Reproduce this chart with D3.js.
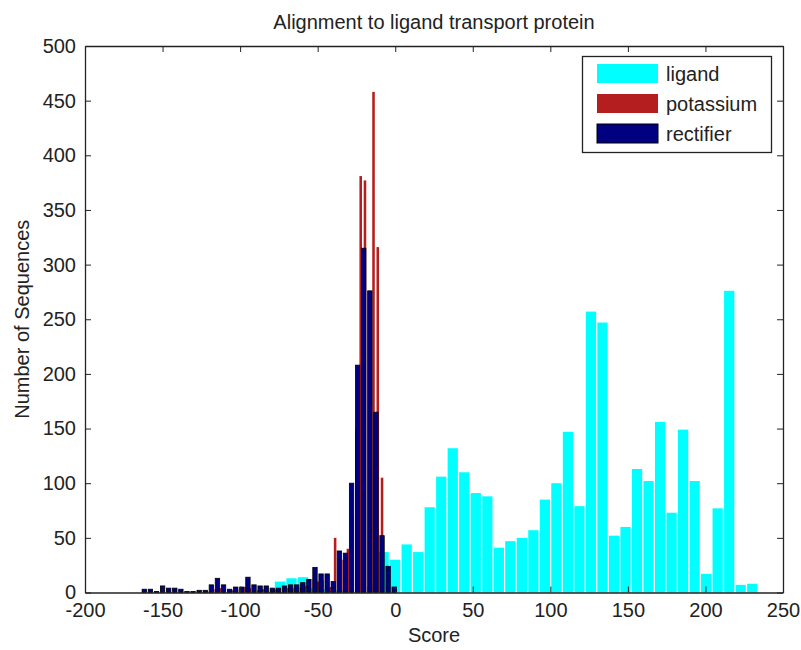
<!DOCTYPE html>
<html>
<head>
<meta charset="utf-8">
<script src="https://cdn.jsdelivr.net/npm/d3@7"></script>
<style>
  body { margin: 0; background: #fff; }
  text { font-family: "Liberation Sans", Arial, sans-serif; }
</style>
</head>
<body>
<div id="chart"></div>
<script>
// Layout
const width = 801;
const height = 650;
const margin = {top: 46, right: 18, bottom: 57.5, left: 85};

// Data: histogram counts, one value per bin (bins are evenly spaced)
const ligandStart = -74.3, ligandBin = 7.426;
const ligandCounts = [10, 13, 14, 4, 3, 2, 2, 3, 5, 37,
  30, 44, 37, 78, 106, 132, 110, 91, 88, 41,
  47, 50, 57, 85, 100, 147, 79, 257, 247, 52,
  60, 113, 102, 156, 73, 149, 102, 17, 77, 276,
  7, 8];

const potassiumStart = -121.25, potassiumBin = 2.75;
const potassiumCounts = [1, 2, 3, 4, 3, 2, 2, 3, 4, 5,
  4, 3, 2, 3, 2, 2, 3, 2, 3, 4,
  4, 5, 5, 6, 8, 12, 10, 11, 9, 5,
  50, 25, 30, 40, 70, 150, 381, 377, 240, 458,
  316, 105];

const rectifierStart = -165.7, rectifierBin = 3.93;
const rectifierCounts = [0, 3, 3, 1, 6, 4, 4, 3, 1, 1,
  2, 2, 7, 13, 7, 3, 5, 5, 14, 7,
  6, 6, 4, 4, 6, 7, 7, 9, 12, 23,
  17, 17, 10, 38, 36, 100, 208, 315, 276, 165,
  52, 24, 5];

const xTicks = [-200, -150, -100, -50, 0, 50, 100, 150, 200, 250];
const yTicks = [0, 50, 100, 150, 200, 250, 300, 350, 400, 450, 500];

const seriesNames = ["ligand", "potassium", "rectifier"];
const seriesColors = ["#00ffff", "#b41e1e", "#000080"];

// Scales
const x = d3.scaleLinear().domain([-200, 250]).range([margin.left, width - margin.right]);
const y = d3.scaleLinear().domain([0, 500]).range([height - margin.bottom, margin.top]);

const svg = d3.select("#chart").append("svg")
  .attr("width", width)
  .attr("height", height)
  .style("font-size", "20px");

function toBins(start, step, counts) {
  return counts.map((c, i) => ({center: start + i * step, step: step, count: c}));
}

function drawBars(bins, frac, fill, stroke, strokeWidth) {
  svg.append("g").selectAll("rect").data(bins.filter(d => d.count > 0)).join("rect")
    .attr("x", d => x(d.center - d.step * frac / 2))
    .attr("width", d => x(d.center + d.step * frac / 2) - x(d.center - d.step * frac / 2))
    .attr("y", d => y(d.count))
    .attr("height", d => y(0) - y(d.count))
    .attr("fill", fill)
    .attr("stroke", stroke)
    .attr("stroke-width", strokeWidth);
}

// ligand behind, rectifier on top
drawBars(toBins(ligandStart, ligandBin, ligandCounts), 0.89, seriesColors[0], "none", 0);
drawBars(toBins(potassiumStart, potassiumBin, potassiumCounts), 0.6, seriesColors[1], "none", 0);
drawBars(toBins(rectifierStart, rectifierBin, rectifierCounts), 0.72, seriesColors[2], "#000", 0.8);

// Axes (ticks pointing inward on all four sides)
const axisColor = "#222";
const bottomAxis = svg.append("g")
  .attr("transform", `translate(0,${y(0)})`)
  .call(d3.axisBottom(x).tickValues(xTicks).tickSize(-6).tickSizeOuter(0).tickPadding(10));
const topAxis = svg.append("g")
  .attr("transform", `translate(0,${y(500)})`)
  .call(d3.axisTop(x).tickValues(xTicks).tickSize(-6).tickSizeOuter(0).tickFormat(""));
const leftAxis = svg.append("g")
  .attr("transform", `translate(${x(-200)},0)`)
  .call(d3.axisLeft(y).tickValues(yTicks).tickSize(-6).tickSizeOuter(0).tickPadding(9));
const rightAxis = svg.append("g")
  .attr("transform", `translate(${x(250)},0)`)
  .call(d3.axisRight(y).tickValues(yTicks).tickSize(-6).tickSizeOuter(0).tickFormat(""));

[bottomAxis, topAxis, leftAxis, rightAxis].forEach(g => {
  g.select(".domain").attr("stroke", axisColor).attr("stroke-width", 1.3);
  g.selectAll(".tick line").attr("stroke", axisColor);
  g.selectAll(".tick text")
    .attr("fill", "#222")
    .style("font-size", "20px")
    .style("font-family", "'Liberation Sans', Arial, sans-serif");
});
bottomAxis.selectAll(".tick text").text(d => d < 0 ? "-" + Math.abs(d) : d);

// Title and axis labels
svg.append("text")
  .attr("x", (x(-200) + x(250)) / 2)
  .attr("y", 29)
  .attr("text-anchor", "middle")
  .attr("fill", "#222")
  .text("Alignment to ligand transport protein");

svg.append("text")
  .attr("x", (x(-200) + x(250)) / 2)
  .attr("y", 642)
  .attr("text-anchor", "middle")
  .attr("fill", "#222")
  .text("Score");

svg.append("text")
  .attr("transform", `translate(29,${(y(0) + y(500)) / 2}) rotate(-90)`)
  .attr("text-anchor", "middle")
  .attr("fill", "#222")
  .text("Number of Sequences");

// Legend
const legend = svg.append("g");
legend.append("rect")
  .attr("x", 582.5).attr("y", 56.5)
  .attr("width", 189).attr("height", 96)
  .attr("fill", "#fff").attr("stroke", axisColor).attr("stroke-width", 1.3);

const legendItems = legend.selectAll("g.item").data(seriesNames).join("g")
  .attr("class", "item")
  .attr("transform", (d, i) => `translate(0,${i * 30})`);

legendItems.append("rect")
  .attr("x", 597).attr("y", 64)
  .attr("width", 61).attr("height", 19)
  .attr("fill", (d, i) => seriesColors[i])
  .attr("stroke", (d, i) => i === 2 ? "#000" : "none");

legendItems.append("text")
  .attr("x", 666).attr("y", 81)
  .attr("fill", "#222")
  .text(d => d);
</script>
</body>
</html>
